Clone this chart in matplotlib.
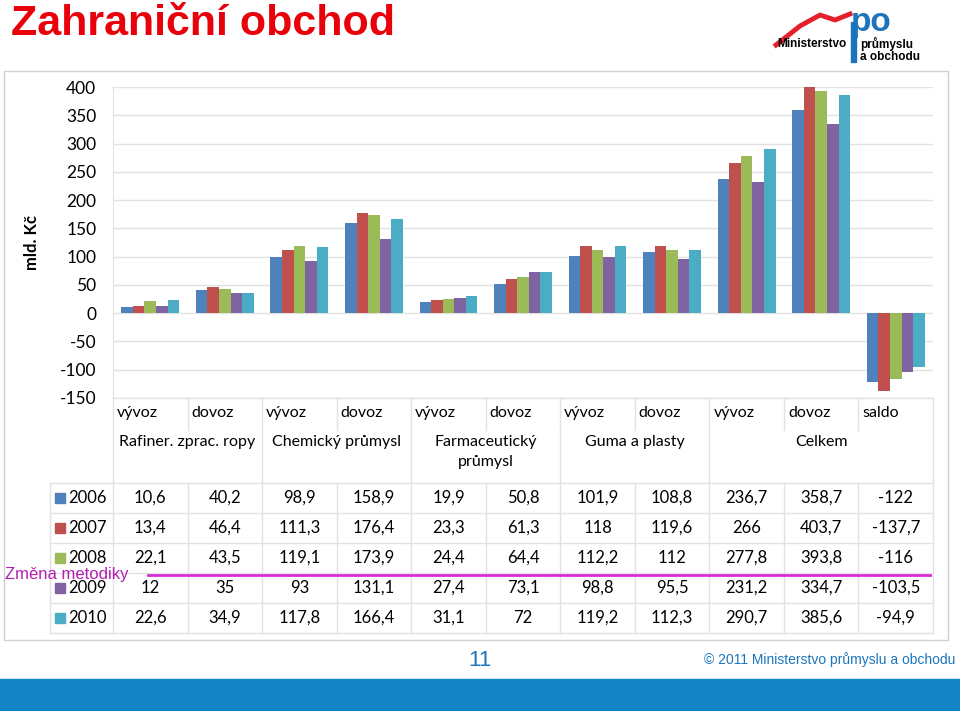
import matplotlib.pyplot as plt
from matplotlib.patches import Rectangle

W, H = 960, 711

YEARS = ['2006', '2007', '2008', '2009', '2010']
COLUMNS = ['vývoz', 'dovoz', 'vývoz', 'dovoz', 'vývoz', 'dovoz',
           'vývoz', 'dovoz', 'vývoz', 'dovoz', 'saldo']
GROUPS = ['Rafiner. zprac. ropy', 'Chemický průmysl', 'Farmaceutický\nprůmysl',
          'Guma a plasty', 'Celkem']
GROUP_SPAN = [(0, 2), (2, 4), (4, 6), (6, 8), (8, 11)]

v2006 = [10.6, 40.2, 98.9, 158.9, 19.9, 50.8, 101.9, 108.8, 236.7, 358.7, -122]
v2007 = [13.4, 46.4, 111.3, 176.4, 23.3, 61.3, 118, 119.6, 266, 403.7, -137.7]
v2008 = [22.1, 43.5, 119.1, 173.9, 24.4, 64.4, 112.2, 112, 277.8, 393.8, -116]
v2009 = [12, 35, 93, 131.1, 27.4, 73.1, 98.8, 95.5, 231.2, 334.7, -103.5]
v2010 = [22.6, 34.9, 117.8, 166.4, 31.1, 72, 119.2, 112.3, 290.7, 385.6, -94.9]
SERIES = [v2006, v2007, v2008, v2009, v2010]
COLORS = ['#4F81BD', '#C0504D', '#9BBB59', '#8064A2', '#4BACC6']

FONT = 'Lato'
GRID = '#E2E2E2'
FS = 11.5

fig = plt.figure(figsize=(W / 100, H / 100), dpi=100)

# overlay in pixel coords for frame, table and slide decoration
ov = fig.add_axes([0, 0, 1, 1])
ov.set_xlim(0, W)
ov.set_ylim(H, 0)
ov.axis('off')

# chart frame
ov.add_patch(Rectangle((4, 71), 944, 569, fill=False, edgecolor='#D0D0D0', lw=1))

# chart
L, R, T, B = 113, 933, 87, 398
ax = fig.add_axes([L / W, (H - B) / H, (R - L) / W, (B - T) / H])
ax.set_facecolor('none')
ax.set_xlim(0, len(COLUMNS))
ax.set_ylim(-150, 400)
bw = 0.155
for i, (vals, c) in enumerate(zip(SERIES, COLORS)):
    xs = [k + 0.5 + (i - 2) * bw for k in range(len(vals))]
    ax.bar(xs, vals, width=bw, color=c, zorder=3)
ax.set_yticks(range(-150, 401, 50))
ax.set_yticklabels([str(t) for t in range(-150, 401, 50)], fontfamily=FONT, fontsize=12.5)
ax.tick_params(axis='y', length=0, pad=12)
ax.set_xticks([])
ax.grid(axis='y', color=GRID, lw=1, zorder=0)
for s in ['top', 'right', 'bottom']:
    ax.spines[s].set_visible(False)
ax.spines['left'].set_color(GRID)
ax.set_ylabel('mld. Kč', fontfamily=FONT, fontweight='bold', fontsize=12, labelpad=14)

# data table below chart
colw = (R - L) / len(COLUMNS)
edges = [L + k * colw for k in range(len(COLUMNS) + 1)]
r1_top, r1_bot, r2_bot = B, 430, 483
row_h = 30
ov.plot([L, R], [r1_top, r1_top], color=GRID, lw=1)
for k, name in enumerate(COLUMNS):
    ov.text(edges[k] + 4, 413, name, fontfamily=FONT, fontsize=FS, va='center', ha='left')
for e in edges:
    ov.plot([e, e], [r1_top, r1_bot], color=GRID, lw=1)
for (a, b), g in zip(GROUP_SPAN, GROUPS):
    cx = (edges[a] + edges[b]) / 2
    ov.text(cx, 435, g, fontfamily=FONT, fontsize=FS, va='top', ha='center', linespacing=1.55)
    ov.plot([edges[a], edges[a]], [r1_bot, r2_bot], color=GRID, lw=1)
ov.plot([R, R], [r1_bot, r2_bot], color=GRID, lw=1)

leg_left = 50
for j, (yr, vals, c) in enumerate(zip(YEARS, SERIES, COLORS)):
    top = r2_bot + j * row_h
    cy = top + row_h / 2
    ov.plot([leg_left, R], [top, top], color=GRID, lw=1)
    ov.add_patch(Rectangle((55, cy - 5), 10, 10, color=c))
    ov.text(68, cy, yr, fontfamily=FONT, fontsize=FS + 0.5, va='center', ha='left')
    for k, v in enumerate(vals):
        txt = ('%g' % v).replace('.', ',')
        ov.text((edges[k] + edges[k + 1]) / 2, cy, txt, fontfamily=FONT, fontsize=FS + 0.5,
                va='center', ha='center')
bottom = r2_bot + len(YEARS) * row_h
ov.plot([leg_left, R], [bottom, bottom], color=GRID, lw=1)
for e in [leg_left] + edges:
    ov.plot([e, e], [r2_bot, bottom], color=GRID, lw=1)

# methodology change marker
ov.plot([148, 930], [575, 575], color='#D62BD6', lw=2)
ov.text(5, 575, 'Změna metodiky', fontfamily='Liberation Sans', fontsize=12,
        color='#B21EB2', va='center', ha='left')

# title
ov.text(11, 35, 'Zahraniční obchod', fontfamily='Liberation Sans', fontweight='bold',
        fontsize=31, color='#E8000B', va='baseline', ha='left')

# logo (approximation)
ov.plot([776, 800, 820, 835, 850], [45, 26, 15, 20, 14], color='#E4202C', lw=3.5)
ov.add_patch(Rectangle((851, 22), 5, 40, color='#1C75BC'))
ov.text(851, 23, 'po', fontfamily='Liberation Sans', fontweight='bold', fontsize=24,
        color='#1C75BC', va='center', ha='left')
ov.text(847, 44, 'Ministerstvo', fontfamily='Liberation Sans', fontweight='bold',
        fontsize=8.5, va='center', ha='right')
ov.text(860, 44, 'průmyslu', fontfamily='Liberation Sans', fontweight='bold',
        fontsize=8.5, va='center', ha='left')
ov.text(860, 57, 'a obchodu', fontfamily='Liberation Sans', fontweight='bold',
        fontsize=8.5, va='center', ha='left')

# footer
ov.text(480, 660, '11', fontfamily='Liberation Sans', fontsize=16, color='#1B75BC',
        va='center', ha='center')
ov.text(955, 660, '© 2011 Ministerstvo průmyslu a obchodu', fontfamily='Liberation Sans',
        fontsize=10, color='#1B75BC', va='center', ha='right')
ov.add_patch(Rectangle((0, 679), W, H - 679, color='#1283C4'))

fig.savefig('out.png', dpi=100)
